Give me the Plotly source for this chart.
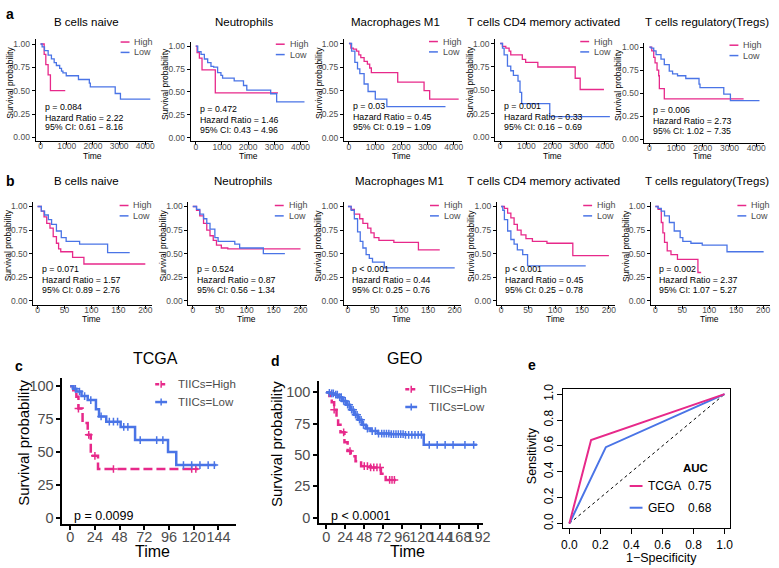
import plotly.graph_objects as go
from bisect import bisect_right

W, H = 779, 568
FONT = 'Liberation Sans, Arial, sans-serif'
PINK = '#E7298A'
BLUE = '#4A74E6'
GREY = '#4D4D4D'

# ---------------- data ----------------
cell_types = ['B cells naive', 'Neutrophils', 'Macrophages M1',
              'T cells CD4 memory activated', 'T cells regulatory(Tregs)']
surv_ticks = [0, 0.25, 0.5, 0.75, 1]
surv_ticktext = ['0.00', '0.25', '0.50', '0.75', '1.00']

# row a - TCGA, time in days
a_xticks = [0, 1000, 2000, 3000, 4000]
a_high_t = [[0, 138, 201, 289, 377, 943],
            [0, 51, 139, 240, 747, 3139],
            [0, 75, 164, 289, 377, 453, 579, 704, 792, 855, 1862, 2868, 3082, 4189],
            [0, 88, 215, 341, 404, 845, 972, 1438, 2864, 3054, 3962],
            [0, 87, 161, 211, 285, 347, 372, 557, 3529]]
a_high_s = [[1, 0.89, 0.78, 0.67, 0.50, 0.50],
            [1, 0.93, 0.87, 0.74, 0.49, 0.49],
            [1, 0.95, 0.94, 0.92, 0.88, 0.85, 0.81, 0.78, 0.74, 0.69, 0.59, 0.50, 0.41, 0.41],
            [1, 0.97, 0.95, 0.92, 0.88, 0.83, 0.80, 0.75, 0.63, 0.51, 0.51],
            [1, 0.96, 0.89, 0.83, 0.75, 0.69, 0.55, 0.44, 0.44]]
a_low_t = [[0, 60, 150, 290, 415, 520, 604, 730, 800, 855, 981, 1447, 1862, 1900, 2850, 3050, 4190],
           [0, 76, 203, 329, 456, 582, 684, 835, 962, 1025, 1468, 1823, 1949, 2861, 3089, 4152],
           [0, 101, 226, 327, 415, 579, 730, 1006, 1447, 3686],
           [0, 88, 151, 278, 404, 505, 681, 757, 820, 1893, 4189],
           [0, 62, 161, 248, 433, 557, 743, 867, 1053, 1362, 1858, 1895, 2786, 3034, 4124]]
a_low_s = [[1, 0.97, 0.93, 0.88, 0.84, 0.80, 0.77, 0.74, 0.71, 0.69, 0.66, 0.62, 0.58, 0.54, 0.47, 0.41, 0.41],
           [1, 0.94, 0.91, 0.86, 0.82, 0.78, 0.77, 0.71, 0.68, 0.65, 0.62, 0.57, 0.52, 0.48, 0.39, 0.39],
           [1, 0.92, 0.80, 0.73, 0.68, 0.57, 0.49, 0.41, 0.33, 0.33],
           [1, 0.95, 0.88, 0.76, 0.71, 0.66, 0.60, 0.48, 0.36, 0.22, 0.22],
           [1, 0.99, 0.96, 0.92, 0.87, 0.81, 0.74, 0.71, 0.69, 0.66, 0.60, 0.56, 0.49, 0.42, 0.42]]
a_p = ['p = 0.084', 'p = 0.472', 'p = 0.03', 'p = 0.001', 'p = 0.006']
a_hr = ['2.22', '1.46', '0.45', '0.33', '2.73']
a_ci = ['0.61 − 8.16', '0.43 − 4.96', '0.19 − 1.09', '0.16 − 0.69', '1.02 − 7.35']

# row b - GEO, time in months
b_xticks = [0, 50, 100, 150, 200]
b_high_t = [[0, 7, 12, 17, 23, 29, 35, 39, 43, 65, 86, 200],
            [0, 7, 13, 20, 26, 32, 38, 44, 53, 65, 200],
            [0, 6, 12, 22, 28, 37, 43, 49, 58, 86, 132, 172],
            [0, 6, 12, 18, 24, 30, 37, 46, 58, 85, 133, 200],
            [0, 5, 11, 14, 17, 22, 29, 41, 79, 85]]
b_high_s = [[1, 0.95, 0.89, 0.82, 0.77, 0.68, 0.61, 0.55, 0.52, 0.46, 0.39, 0.39],
            [1, 0.96, 0.90, 0.82, 0.75, 0.69, 0.64, 0.59, 0.56, 0.55, 0.55],
            [1, 0.97, 0.92, 0.87, 0.82, 0.77, 0.72, 0.67, 0.64, 0.62, 0.54, 0.54],
            [1, 0.98, 0.93, 0.88, 0.81, 0.75, 0.70, 0.66, 0.63, 0.61, 0.48, 0.48],
            [1, 0.97, 0.83, 0.72, 0.62, 0.53, 0.49, 0.44, 0.30, 0.30]]
b_low_t = [[0, 7, 13, 20, 26, 35, 44, 53, 78, 130, 171],
           [0, 7, 13, 20, 26, 32, 41, 47, 78, 87, 131, 171],
           [0, 6, 12, 18, 23, 28, 34, 40, 46, 68, 200],
           [0, 3, 6, 12, 18, 24, 30, 40, 49, 157],
           [0, 5, 11, 17, 26, 35, 46, 51, 66, 87, 133, 201]]
b_low_s = [[1, 0.95, 0.91, 0.86, 0.81, 0.74, 0.67, 0.63, 0.60, 0.51, 0.51],
           [1, 0.97, 0.92, 0.87, 0.82, 0.76, 0.67, 0.63, 0.60, 0.56, 0.50, 0.50],
           [1, 0.96, 0.87, 0.73, 0.63, 0.56, 0.49, 0.45, 0.41, 0.35, 0.35],
           [1, 0.96, 0.86, 0.74, 0.65, 0.60, 0.54, 0.49, 0.37, 0.37],
           [1, 0.98, 0.95, 0.90, 0.83, 0.74, 0.67, 0.63, 0.61, 0.59, 0.52, 0.52]]
b_p = ['p = 0.071', 'p = 0.524', 'p < 0.001', 'p < 0.001', 'p = 0.002']
b_hr = ['1.57', '0.87', '0.44', '0.45', '2.37']
b_ci = ['0.89 − 2.76', '0.56 − 1.34', '0.25 − 0.76', '0.25 − 0.78', '1.07 − 5.27']

# c - TCGA, TIICs score groups
c_xticks = [0, 24, 48, 72, 96, 120, 144]
c_high_t = [0, 3, 6, 8, 12, 17, 20, 27, 124]
c_high_s = [100, 97, 92, 83, 72, 63, 47, 37, 37]
c_high_cens = [8, 18, 24, 42, 118, 122]
c_low_t = [0, 3, 6, 11, 17, 25, 28, 35, 49, 63, 95, 103, 142]
c_low_s = [100, 98, 96, 92.5, 89.5, 82.5, 77, 73, 69, 59, 50, 40, 40]
c_low_cens = [5, 9, 14, 20, 30, 38, 42, 46, 52, 56, 68, 84, 90, 110, 118, 126, 134, 140]

# d - GEO, TIICs score groups
d_xticks = [0, 24, 48, 72, 96, 120, 144, 168, 192]
d_high_t = [0, 4, 7, 10, 13, 15, 18, 23, 27, 31, 37, 44, 56, 69, 75, 88]
d_high_s = [100, 97, 92, 86, 80, 74, 68, 60, 53, 49, 45, 41, 40, 35, 30, 30]
d_high_cens = [10, 22, 30, 48, 52, 56, 60, 64, 68, 80, 83, 86]
d_low_t = [0, 3, 6, 10, 15, 20, 25, 30, 35, 40, 45, 50, 56, 65, 80, 100, 123, 190]
d_low_s = [100, 99.5, 99, 98, 96, 93, 90, 86, 82, 78, 74, 71, 69, 67, 66.5, 66, 58, 58]
d_low_cens = [4, 7, 9, 12, 14, 17, 19, 22, 24, 27, 29, 32, 34, 37, 39, 42, 44, 47, 52, 58,
              62, 66, 70, 73, 76, 79, 82, 85, 88, 91, 94, 97, 100, 104, 108, 112, 116, 120,
              130, 140, 150, 160, 175, 186]
km_yticks = [0, 25, 50, 75, 100]

# e - ROC
roc_tcga_fpr = [0, 0.14, 1]
roc_tcga_tpr = [0, 0.645, 1]
roc_geo_fpr = [0, 0.235, 1]
roc_geo_tpr = [0, 0.59, 1]
roc_ticks = [0, 0.2, 0.4, 0.6, 0.8, 1.0]
roc_ticktext = ['0.0', '0.2', '0.4', '0.6', '0.8', '1.0']
auc_names = ['TCGA', 'GEO']
auc_values = ['0.75', '0.68']

# ---------------- layout anchors (pixels) ----------------
a_px0 = [39, 196, 351, 504, 655]
a_px1 = [145, 302, 457, 610, 763]
a_py1 = [39.5, 41.7, 39, 39, 42.7]
a_py0 = [134, 134.3, 134.3, 134, 136]
a_title_x = [85, 245, 398, 548, 713]
b_px0 = [36, 193, 350, 505, 661]
b_px1 = [145, 302, 458, 614, 770]
b_py1 = [204] * 5
b_py0 = [299.5] * 5
b_title_x = [85, 244, 402, 548, 713]


def px(x):
    return x / W


def py(y):
    return 1 - y / H


def span(p0, p1, v0, v1, lo, hi):
    k = (p1 - p0) / (v1 - v0)
    return p0 + (lo - v0) * k, p0 + (hi - v0) * k


fig = go.Figure()
layout = {}
ann = []
shapes = []


def text(x, y, s, size, color='black', xa='center', ya='middle', angle=0):
    ann.append(dict(x=px(x), y=py(y), xref='paper', yref='paper', text=s, showarrow=False,
                    xanchor=xa, yanchor=ya, textangle=angle,
                    font=dict(family=FONT, size=size, color=color)))


def seg(x0, y0, x1, y1, color, width, dash='solid'):
    shapes.append(dict(type='line', xref='paper', yref='paper', x0=px(x0), y0=py(y0),
                       x1=px(x1), y1=py(y1), line=dict(color=color, width=width, dash=dash)))


def add_axes(n, xr, yr, xd, yd, xticks, yticks, yticktext=None, xticktext=None,
             size=8.5, lw=1, tlen=3, mirror=False, yangle=None, xoff=0):
    sfx = '' if n == 1 else str(n)
    common = dict(showline=True, linecolor='black', linewidth=lw, mirror=mirror,
                  ticks='outside', ticklen=tlen, tickwidth=lw, tickcolor='black',
                  showgrid=False, zeroline=False, fixedrange=True,
                  tickfont=dict(family=FONT, size=size, color=GREY))
    layout['xaxis' + sfx] = dict(common, domain=[px(xd[0]), px(xd[1])], range=xr,
                                 anchor='y' + sfx, tickvals=xticks, ticktext=xticktext,
                                 tickangle=0, ticklabelstandoff=xoff)
    layout['yaxis' + sfx] = dict(common, domain=[py(yd[0]), py(yd[1])], range=yr,
                                 anchor='x' + sfx, tickvals=yticks, ticktext=yticktext,
                                 tickangle=yangle)
    return 'x' + sfx, 'y' + sfx


def km(xa, ya, t, s, color, width, dash='solid', cens=None):
    fig.add_trace(go.Scatter(x=t, y=s, mode='lines', xaxis=xa, yaxis=ya, showlegend=False,
                             line=dict(color=color, width=width, dash=dash, shape='hv'),
                             hoverinfo='skip'))
    if cens:
        cy = [s[bisect_right(t, c) - 1] for c in cens]
        fig.add_trace(go.Scatter(x=cens, y=cy, mode='markers', xaxis=xa, yaxis=ya,
                                 showlegend=False, hoverinfo='skip',
                                 marker=dict(symbol='cross-thin', size=5.5,
                                             line=dict(color=color, width=1.5))))


# ---------------- rows a and b ----------------
rows = [
    dict(x0=a_px0, x1=a_px1, y1=a_py1, y0=a_py0, tx=a_title_x, ty=17, xr=[-190, 4300],
         xt=a_xticks, ht=a_high_t, hs=a_high_s, lt=a_low_t, ls=a_low_s,
         p=a_p, hr=a_hr, ci=a_ci, time_y=153, leg=(81, 93), ly=-2),
    dict(x0=b_px0, x1=b_px1, y1=b_py1, y0=b_py0, tx=b_title_x, ty=178, xr=[-8, 212],
         xt=b_xticks, ht=b_high_t, hs=b_high_s, lt=b_low_t, ls=b_low_s,
         p=b_p, hr=b_hr, ci=b_ci, time_y=318, leg=(83, 95), ly=-1),
]
n = 0
for r in rows:
    for i in range(5):
        n += 1
        x0, x1, y0, y1 = r['x0'][i], r['x1'][i], r['y0'][i], r['y1'][i]
        yr = [-0.04, 1.05]
        xd = span(x0, x1, r['xt'][0], r['xt'][-1], *r['xr'])
        yd = span(y0, y1, 0, 1, *yr)
        xa, ya = add_axes(n, r['xr'], yr, xd, yd, r['xt'], surv_ticks, surv_ticktext, xoff=-6)
        km(xa, ya, r['ht'][i], r['hs'][i], PINK, 1.3)
        km(xa, ya, r['lt'][i], r['ls'][i], BLUE, 1.3)
        text(r['tx'][i], r['ty'], cell_types[i], 11.5)
        text(x0 + 2, y1 + 63.5, r['p'][i], 8.8, xa='left')
        text(x0 + 2, y1 + 74.5, 'Hazard Ratio = ' + r['hr'][i], 8.8, xa='left')
        text(x0 + 2, y1 + 84.5, '95% CI: ' + r['ci'][i], 8.8, xa='left')
        text(xd[0] - 26, (y0 + y1) / 2 - 8, 'Survival probability', 8.5, angle=-90)
        text((x0 + x1) / 2, r['time_y'], 'Time', 8.5)
        lx, tx = r['leg']
        for k, (lab, col) in enumerate([('High', PINK), ('Low', BLUE)]):
            yy = y1 + r['ly'] + 10.5 * k
            seg(x0 + lx, yy, x0 + lx + 9, yy, col, 1.5)
            text(x0 + tx, yy, lab, 9, color=GREY, xa='left')

# ---------------- c and d ----------------
cd = [
    dict(name='TCGA', xr=[-7.5, 161], xp=(69, 219), xt=c_xticks, yr=[-4.5, 106], yp=(519, 386),
         ht=c_high_t, hs=c_high_s, hc=c_high_cens, lt=c_low_t, ls=c_low_s, lc=c_low_cens,
         p='p = 0.0099', title=(155, 358), leg=(155, 176, 384, 402), ylab=21, time_x=152),
    dict(name='GEO', xr=[-8.7, 198], xp=(328, 482), xt=d_xticks, yr=[-4.7, 109], yp=(519, 392),
         ht=d_high_t, hs=d_high_s, hc=d_high_cens, lt=d_low_t, ls=d_low_s, lc=d_low_cens,
         p='p < 0.0001', title=(408, 358), leg=(408, 430, 389, 407), ylab=277, time_x=410),
]
for q in cd:
    n += 1
    xd = span(q['xp'][0], q['xp'][1], q['xt'][0], q['xt'][-1], *q['xr'])
    yd = span(q['yp'][0], q['yp'][1], 0, 100, *q['yr'])
    xa, ya = add_axes(n, q['xr'], q['yr'], xd, yd, q['xt'], km_yticks, size=14.5, lw=2, tlen=4,
                      xoff=-5)
    km(xa, ya, q['ht'], q['hs'], PINK, 2.5, dash='9px,4px', cens=q['hc'])
    km(xa, ya, q['lt'], q['ls'], BLUE, 2.5, cens=q['lc'])
    text(q['title'][0], q['title'][1], q['name'], 16)
    text(xd[0] + 10, 517, q['p'], 12.5, xa='left')
    text(q['ylab'], (yd[0] + yd[1]) / 2 - 8, 'Survival probability', 15, angle=-90)
    text(q['time_x'], 553, 'Time', 16)
    l0, t0, yh, yl = q['leg']
    seg(l0, yh, l0 + 12, yh, PINK, 2.5, dash='4px,2px')
    seg(l0 + 6, yh - 3.5, l0 + 6, yh + 3.5, PINK, 1.5)
    seg(l0, yl, l0 + 12, yl, BLUE, 2.5)
    seg(l0 + 6, yl - 3.5, l0 + 6, yl + 3.5, BLUE, 1.5)
    text(t0, yh, 'TIICs=High', 11.5, color=GREY, xa='left')
    text(t0, yl, 'TIICs=Low', 11.5, color=GREY, xa='left')

# ---------------- e ----------------
n += 1
er = [-0.038, 1.038]
xd = span(574, 731, 0, 1, *er)
yd = span(525, 394, 0, 1, *er)
xa, ya = add_axes(n, er, er, xd, yd, roc_ticks, roc_ticks, yticktext=roc_ticktext,
                  xticktext=roc_ticktext, size=12, lw=1, tlen=5, mirror=True, yangle=-90)
layout['xaxis' + str(n)]['tickfont']['color'] = 'black'
layout['yaxis' + str(n)]['tickfont']['color'] = 'black'
fig.add_trace(go.Scatter(x=[0, 1], y=[0, 1], mode='lines', xaxis=xa, yaxis=ya, showlegend=False,
                         line=dict(color='black', width=1, dash='3px,3px'), hoverinfo='skip'))
fig.add_trace(go.Scatter(x=roc_geo_fpr, y=roc_geo_tpr, mode='lines', xaxis=xa, yaxis=ya,
                         showlegend=False, line=dict(color=BLUE, width=2), hoverinfo='skip'))
fig.add_trace(go.Scatter(x=roc_tcga_fpr, y=roc_tcga_tpr, mode='lines', xaxis=xa, yaxis=ya,
                         showlegend=False, line=dict(color=PINK, width=2), hoverinfo='skip'))
text(702, 469, '<b>AUC</b>', 11.5)
for k, col in enumerate([PINK, BLUE]):
    yy = 487 + 22 * k
    seg(635, yy, 648, yy, col, 2)
    text(652, yy, auc_names[k], 12, xa='left')
    text(692, yy, auc_values[k], 12, xa='left')
text(537, 456, 'Sensitivity', 12.5, angle=-90)
text(667, 560, '1−Specificity', 12.5)

# panel letters
for lab, x, y in [('a', 8.5, 9), ('b', 9, 178), ('c', 17, 365), ('d', 277, 360), ('e', 536, 364)]:
    text(x, y, '<b>%s</b>' % lab, 14)

fig.update_layout(width=W, height=H, margin=dict(l=0, r=0, t=0, b=0),
                  paper_bgcolor='white', plot_bgcolor='white',
                  annotations=ann, shapes=shapes, **layout)
fig.write_html("out.html", config={'displayModeBar': False},
               post_script="document.body.style.margin='0';")
